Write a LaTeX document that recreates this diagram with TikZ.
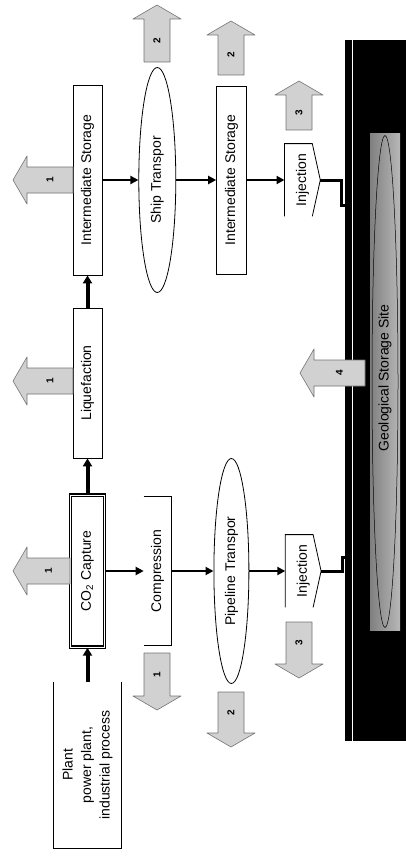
\documentclass[tikz,border=0pt]{standalone}
\usepackage{fontspec}
\setmainfont{Liberation Sans}
\usetikzlibrary{positioning, shapes.geometric, arrows.meta}

\newcommand{\vtext}[1]{\rotatebox{90}{#1}}

\tikzset{
  stage/.style={draw, line width=0.8pt, inner sep=0pt, fill=white, font=\fontsize{14}{18.5}\selectfont},
  openstage/.style={stage, draw=none},
  transport/.style={stage, ellipse},
  flow/.style={line width=2.4pt, -{Triangle[length=8pt, width=8pt]}},
  mainflow/.style={line width=4pt, -{Triangle[length=8pt, width=9pt]}},
  well/.style={line width=3pt},
  loss/.style={draw=black!55, fill=black!18, line width=0.6pt, line join=round},
  pics/lossarrow/.style 2 args={code={
      \draw[loss] (0,-13) -- (#1,-13) -- (#1,-24) -- (#1+14,0) -- (#1,24) -- (#1,13) -- (0,13) -- cycle;
      \node[font=\fontsize{10}{10}\selectfont\bfseries] at (#1/2,0) {\vtext{#2}};
  }},
}

\begin{document}
\begin{tikzpicture}[x=1pt, y=-1pt]
\useasboundingbox (0,0) rectangle (406,856);

% storage site
\fill[black] (345,40) rectangle (406,741);
\draw[white, line width=1pt] (352.5,40) -- (352.5,741);
\node[minimum width=30pt, minimum height=497pt, inner sep=0pt,
      left color=black!50, middle color=black!4, right color=black!28] (site) at (385,381.5) {};
\node[draw, ellipse, line width=0.5pt, minimum width=26pt, minimum height=492pt] (lens) at (site) {};
\node[font=\fontsize{14}{18}\selectfont] (sitename) at (385,378) {\vtext{Geological Storage Site}};

% pipeline route
\node[openstage, minimum width=67pt, minimum height=166pt] (plant) at (87.5,765)
  {\vtext{\begin{tabular}{@{}c@{}}Plant\\power plant,\\industrial process\end{tabular}}};
\node[stage, double, double distance=1pt, line width=1.4pt, minimum width=34pt, minimum height=152pt] (capture) at (87.5,571) {\vtext{CO\textsubscript{2} Capture}};
\node[openstage, minimum width=27pt, minimum height=148pt, right=38.5pt of capture] (compress) {\vtext{Compression}};
\node[transport, minimum width=35pt, minimum height=225pt, right=42pt of compress] (pipeline) {\vtext{Pipeline Transpor}};
\node[openstage, minimum width=35pt, minimum height=72pt, right=36pt of pipeline] (injA) {\vtext{Injection}};

% ship route
\node[stage, minimum width=29pt, minimum height=150pt] (liquefy) at (87.5,383) {\vtext{Liquefaction}};
\node[stage, minimum width=29pt, minimum height=190pt] (storeA) at (87.5,180) {\vtext{Intermediate Storage}};
\node[transport, minimum width=37pt, minimum height=225pt, right=36pt of storeA] (ship) {\vtext{Ship Transpor}};
\node[stage, minimum width=30pt, minimum height=188pt, right=40pt of ship] (storeB) {\vtext{Intermediate Storage}};
\node[openstage, minimum width=35pt, minimum height=72pt, right=37.5pt of storeB] (injB) {\vtext{Injection}};

% open outlines
\draw[line width=0.8pt] (plant.north west) -- (plant.south west) -- (plant.south east) -- (plant.north east);
\draw[line width=0.8pt] (compress.north west) -- (compress.north east) -- (compress.south east) -- (compress.south west);
\draw[line width=0.8pt] (injA.south west) -- (injA.north west) -- ([xshift=-8pt]injA.north east) -- (injA.east) -- ([xshift=-8pt]injA.south east);
\draw[line width=0.8pt] (injB.south west) -- (injB.north west) -- ([xshift=-8pt]injB.north east) -- (injB.east) -- ([xshift=-8pt]injB.south east);

% CO2 flow
\draw[mainflow] (plant.north) -- (capture.south);
\draw[mainflow] (capture.north) -- (liquefy.south);
\draw[mainflow] (liquefy.north) -- (storeA.south);
\draw[flow] (capture.east) -- (compress.west);
\draw[flow] (compress.east) -- (pipeline.west);
\draw[flow] (pipeline.east) -- (injA.west);
\draw[flow] (storeA.east) -- (ship.west);
\draw[flow] (ship.east) -- (storeB.west);
\draw[flow] (storeB.east) -- (injB.west);

\coordinate (bendA) at (342,557);
\coordinate (wellA) at (350,557);
\coordinate (bendB) at (341,205);
\coordinate (wellB) at (350,205);
\draw[well] (injA.east) -| (bendA) -- (wellA);
\draw[well] (injB.east) -| (bendB) -- (wellB);

% losses
\pic[rotate=180] at (73,180) {lossarrow={46}{1}};
\pic[rotate=180] at (73,381) {lossarrow={46}{1}};
\pic[rotate=180] at (70,571) {lossarrow={43}{1}};
\pic[rotate=180] at (365,373) {lossarrow={51}{4}};
\pic[rotate=90] at (157,62) {lossarrow={43}{2}};
\pic[rotate=90] at (231,75) {lossarrow={40}{2}};
\pic[rotate=90] at (299,130) {lossarrow={35}{3}};
\pic[rotate=-90] at (157,653) {lossarrow={43}{1}};
\pic[rotate=-90] at (231,692) {lossarrow={41}{2}};
\pic[rotate=-90] at (299,622) {lossarrow={42}{3}};
\end{tikzpicture}
\end{document}
